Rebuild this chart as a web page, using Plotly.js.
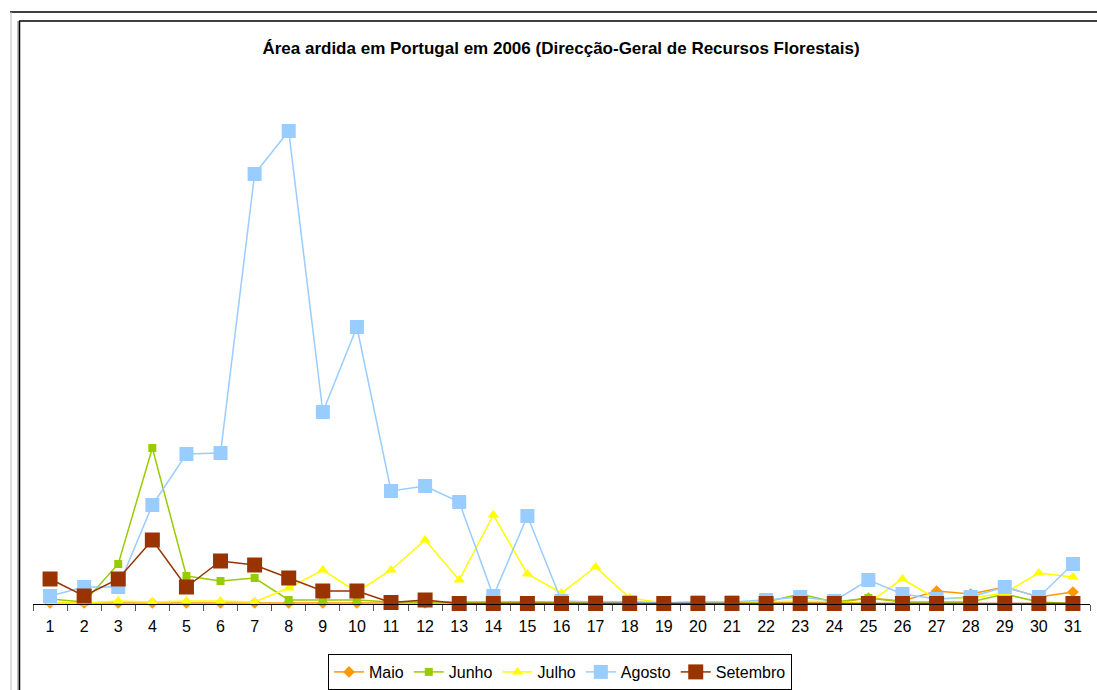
<!DOCTYPE html>
<html>
<head>
<meta charset="utf-8">
<script src="https://cdn.plot.ly/plotly-3.0.1.min.js"></script>
<style>
  html, body { margin: 0; padding: 0; background: #ffffff; }
  #chart { width: 1097px; height: 690px; }
</style>
</head>
<body>
<div id="chart"></div>
<script>
// Days of the month (categories)
const dias = ["1","2","3","4","5","6","7","8","9","10","11","12","13","14","15","16","17","18","19","20","21","22","23","24","25","26","27","28","29","30","31"];

// Burnt area per day (relative units)
const maio     = [1,1,1,1,1,1,1,1,1,1,1,1,1,1,2,1,1,1,1,1,1,1,1,1,6,3,13,10,17,7,12];
const junho    = [5,2,40,156,28,23,26,4,4,4,2,2,2,2,2,2,2,2,1,2,1,2,10,2,6,2,2,2,10,2,0.5];
const julho    = [1,1,3,2,3,3,2,16,34,12,34,64,24,89,30,11,37,6,1,2,2,2,3,2,1,25,5,6,11,31,27];
const agosto   = [8,17,17,99,150,151,430,473,192,277,113,118,102,8,88,3,2,2,1,2,2,4,7,3,24,10,5,7,17,7,40];
const setembro = [25,8,25,64,17,43,39,26,13,13,1.5,4,0.5,0.5,0.5,0.5,0.5,0.5,0.5,0.5,0.5,0.5,0.5,0.5,0.5,0.5,0.5,0.5,0.5,0.5,0.5];

const seriesNames = ["Maio","Junho","Julho","Agosto","Setembro"];
const seriesData = [maio, junho, julho, agosto, setembro];
const styles = [
  {color:"#FF9900", symbol:"diamond", size:9},
  {color:"#99CC00", symbol:"square", size:8},
  {color:"#FFFF00", symbol:"triangle-up", size:10},
  {color:"#99CCFF", symbol:"square", size:14},
  {color:"#993300", symbol:"square", size:15}
];

const traces = seriesData.map((d, i) => ({
  type: "scatter",
  mode: "lines+markers",
  name: seriesNames[i],
  x: dias,
  y: d,
  line: {color: styles[i].color, width: 1.5},
  marker: {color: styles[i].color, symbol: styles[i].symbol, size: styles[i].size, line: {width: 0}},
  cliponaxis: false
}));

const L = 33, R = 7, T = 100, B = 86;
const W = 1097 - L - R, H = 690 - T - B;
const px = v => (v - L) / W;
const py = v => (690 - B - v) / H;
const FONT = "Liberation Sans, Arial, sans-serif";

const layout = {
  width: 1097,
  height: 690,
  margin: {l: L, r: R, t: T, b: B, pad: 0, autoexpand: false},
  paper_bgcolor: "#ffffff",
  plot_bgcolor: "rgba(0,0,0,0)",
  font: {family: FONT, color: "#000000", size: 16},
  title: {
    text: "<b>Área ardida em Portugal em 2006 (Direcção-Geral de Recursos Florestais)</b>",
    font: {family: FONT, size: 17, color: "#000000"},
    x: px(561), xref: "paper", xanchor: "center",
    y: 1 - 48/690, yref: "container", yanchor: "middle"
  },
  xaxis: {
    type: "category",
    range: [-0.5, 30.5],
    showgrid: false,
    zeroline: false,
    showline: true,
    linecolor: "#000000",
    linewidth: 1,
    ticks: "outside",
    tickson: "boundaries",
    ticklen: 6,
    tickcolor: "#555555",
    tickwidth: 1,
    ticklabelstandoff: 8,
    tickfont: {size: 16, family: FONT},
    automargin: false,
    fixedrange: true
  },
  yaxis: {
    range: [0, H],
    visible: false,
    showgrid: false,
    zeroline: false,
    automargin: false,
    fixedrange: true
  },
  showlegend: true,
  legend: {
    orientation: "h",
    x: 560/1097, xref: "container", xanchor: "center",
    y: 1 - 654/690, yref: "container", yanchor: "top",
    bordercolor: "#000000",
    borderwidth: 1,
    bgcolor: "#ffffff",
    font: {size: 16, family: FONT},
    tracegroupgap: 0
  },
  shapes: [
    {type:"line", xref:"paper", yref:"paper", x0: px(10), x1: px(1097), y0: py(12), y1: py(12), line:{color:"#000000", width:1.5}},
    {type:"line", xref:"paper", yref:"paper", x0: px(11), x1: px(11), y0: py(12), y1: py(690), line:{color:"#bbbbbb", width:1}},
    {type:"line", xref:"paper", yref:"paper", x0: px(19), x1: px(1097), y0: py(21), y1: py(21), line:{color:"#000000", width:1.5}},
    {type:"line", xref:"paper", yref:"paper", x0: px(18), x1: px(18), y0: py(21), y1: py(690), line:{color:"#777777", width:1}},
    {type:"line", xref:"paper", yref:"paper", x0: px(19.5), x1: px(19.5), y0: py(21), y1: py(690), line:{color:"#000000", width:1.5}}
  ]
};

Plotly.newPlot("chart", traces, layout, {displayModeBar: false, staticPlot: true});
</script>
</body>
</html>
